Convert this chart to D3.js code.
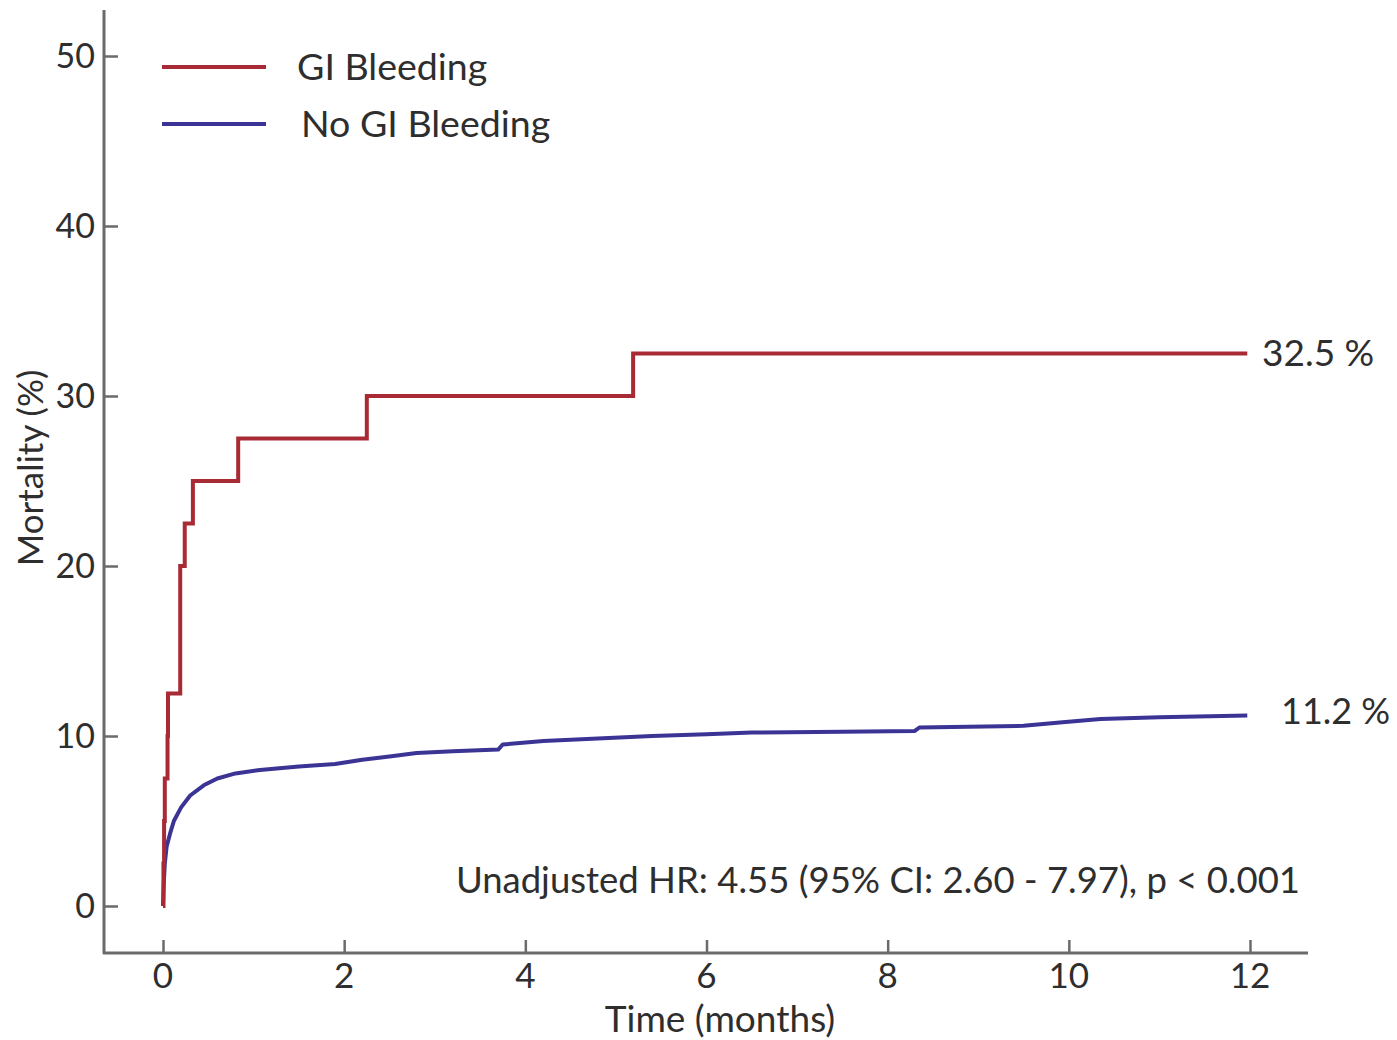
<!DOCTYPE html>
<html lang="en">

<head>
  <meta charset="UTF-8">
  <title>Mortality GI Bleeding</title>
  <style>
    body { margin: 0; background: #fff; }
    text { font-family: Lato, "Open Sans", sans-serif; fill: #2e2e2e; }
  </style>
</head>

<body>

  <script src="https://cdn.jsdelivr.net/npm/d3@7/dist/d3.min.js"></script>
  <script>

    let width = 1397
    let height = 1040

    // GI Bleeding - step curve (months, %)
    let giTime = [0, 0.005, 0.012, 0.02, 0.05, 0.055, 0.19, 0.24, 0.33, 0.83, 2.25, 5.19, 11.97]
    let giMort = [0, 2.5, 5, 7.5, 10, 12.5, 20, 22.5, 25, 27.5, 30, 32.5, 32.5]

    // No GI Bleeding
    let noTime = [0, 0.01, 0.02, 0.04, 0.08, 0.12, 0.2, 0.3, 0.45, 0.6, 0.8, 1.07, 1.5, 1.9, 2.2, 2.5, 2.8, 3.2, 3.7, 3.75, 4.2, 4.8, 5.4, 6.0, 6.5, 7.5, 8.3, 8.35, 9.5, 9.9, 10.35, 11.0, 11.97]
    let noMort = [0, 1.5, 2.5, 3.5, 4.3, 5.0, 5.8, 6.5, 7.1, 7.5, 7.8, 8.0, 8.2, 8.35, 8.6, 8.8, 9.0, 9.1, 9.2, 9.5, 9.7, 9.85, 10.0, 10.1, 10.2, 10.25, 10.3, 10.5, 10.6, 10.8, 11.0, 11.1, 11.2]

    let xTicks = [0, 2, 4, 6, 8, 10, 12]
    let yTicks = [0, 10, 20, 30, 40, 50]
    let legendLabels = ['GI Bleeding', 'No GI Bleeding']
    let endLabels = ['32.5 %', '11.2 %']

    let red = '#a82a34'
    let blue = '#3b3494'
    let axisColor = '#6b6b6b'

    let x = d3.scaleLinear().domain([0, 12]).range([163, 1250])
    let y = d3.scaleLinear().domain([0, 50]).range([906, 56])

    let svg = d3.select('body')
      .append('svg')
      .attr('width', width)
      .attr('height', height)

    // axes lines
    svg.append('line')
      .attr('x1', 104).attr('x2', 104).attr('y1', 10).attr('y2', 954)
      .attr('stroke', axisColor).attr('stroke-width', 3)
    svg.append('line')
      .attr('x1', 103).attr('x2', 1308).attr('y1', 953).attr('y2', 953)
      .attr('stroke', axisColor).attr('stroke-width', 3)

    // y ticks (drawn inward)
    let yAxis = d3.axisRight(y).tickValues(yTicks).tickSize(14).tickFormat('')
    svg.append('g').attr('transform', 'translate(104,0)').call(yAxis)
      .call(g => g.select('.domain').remove())
      .selectAll('line').attr('stroke', axisColor).attr('stroke-width', 2.5)

    svg.selectAll('.ylab')
      .data(yTicks)
      .enter()
      .append('text')
      .attr('x', 95)
      .attr('y', d => y(d))
      .attr('dy', '0.35em')
      .attr('text-anchor', 'end')
      .attr('font-size', 34)
      .text(d => d)

    // x ticks (drawn inward)
    let xAxis = d3.axisTop(x).tickValues(xTicks).tickSize(13).tickFormat('')
    svg.append('g').attr('transform', 'translate(0,953)').call(xAxis)
      .call(g => g.select('.domain').remove())
      .selectAll('line').attr('stroke', axisColor).attr('stroke-width', 2.5)

    svg.selectAll('.xlab')
      .data(xTicks)
      .enter()
      .append('text')
      .attr('x', d => x(d))
      .attr('y', 988)
      .attr('text-anchor', 'middle')
      .attr('font-size', 35)
      .text(d => d)

    // axis titles
    svg.append('text')
      .attr('x', 720).attr('y', 1032)
      .attr('text-anchor', 'middle')
      .attr('font-size', 37)
      .text('Time (months)')

    svg.append('text')
      .attr('transform', 'translate(43,468) rotate(-90)')
      .attr('text-anchor', 'middle')
      .attr('font-size', 35)
      .text('Mortality (%)')

    // curves
    let noData = noTime.map((t, i) => [t, noMort[i]])
    let giData = giTime.map((t, i) => [t, giMort[i]])

    svg.append('path')
      .datum(noData)
      .attr('fill', 'none')
      .attr('stroke', blue)
      .attr('stroke-width', 4)
      .attr('stroke-linejoin', 'round')
      .attr('d', d3.line().x(d => x(d[0])).y(d => y(d[1])).curve(d3.curveLinear))

    svg.append('path')
      .datum(giData)
      .attr('fill', 'none')
      .attr('stroke', red)
      .attr('stroke-width', 4)
      .attr('d', d3.line().x(d => x(d[0])).y(d => y(d[1])).curve(d3.curveStepAfter))

    // end labels
    svg.append('text')
      .attr('x', 1262).attr('y', y(giMort[giMort.length - 1]))
      .attr('dy', '0.35em')
      .attr('font-size', 37)
      .text(endLabels[0])
    svg.append('text')
      .attr('x', 1281).attr('y', y(noMort[noMort.length - 1]) - 4)
      .attr('dy', '0.35em')
      .attr('font-size', 36)
      .text(endLabels[1])

    // legend
    let legColors = [red, blue]
    let legY = [67, 124]
    let legX = [297, 301]
    legendLabels.forEach((lab, i) => {
      svg.append('line')
        .attr('x1', 162).attr('x2', 266).attr('y1', legY[i]).attr('y2', legY[i])
        .attr('stroke', legColors[i]).attr('stroke-width', 4)
      svg.append('text')
        .attr('x', legX[i]).attr('y', legY[i])
        .attr('dy', '0.35em')
        .attr('font-size', 37.5)
        .text(lab)
    })

    // hazard ratio note
    svg.append('text')
      .attr('x', 1300).attr('y', 893)
      .attr('text-anchor', 'end')
      .attr('font-size', 36.5)
      .text('Unadjusted HR: 4.55 (95% CI: 2.60 - 7.97), p < 0.001')
  </script>
</body>

</html>
